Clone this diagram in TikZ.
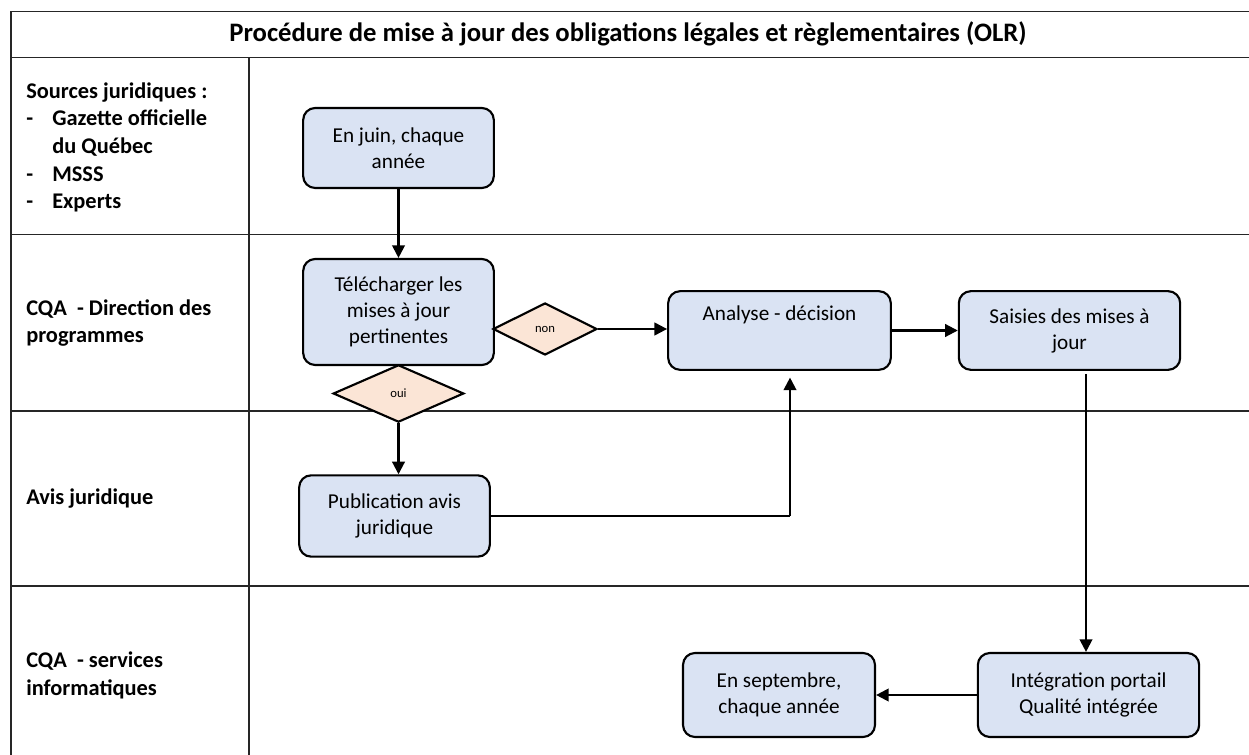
\documentclass[tikz,border=0pt]{standalone}
\usepackage{fontspec}
\setmainfont{Carlito}
\usetikzlibrary{shapes.geometric,arrows.meta}
\definecolor{boxblue}{HTML}{DAE3F3}
\definecolor{diafill}{HTML}{FBE5D6}
\definecolor{gridline}{HTML}{262626}
\begin{document}
\begin{tikzpicture}[x=0.75pt,y=-0.75pt,
  grid/.style={draw=gridline, line width=1.2pt},
  stepbox/.style={draw=black, line width=1.6pt, rounded corners=9pt, fill=boxblue,
    align=center, inner sep=2pt, font=\fontsize{15.9}{19.5}\selectfont},
  choice/.style={draw=black, line width=1.6pt, fill=diafill, diamond, inner sep=0pt,
    font=\fontsize{9.5}{11}\selectfont},
  lane/.style={align=left, anchor=base west, inner sep=0pt, font=\bfseries\fontsize{16.8}{20.8}\selectfont},
  flow/.style={draw=black, line width=1.6pt, -{Triangle[length=9.5pt,width=9.5pt]}},
]
\useasboundingbox (0,0) rectangle (1249,755);
% table grid
\draw[grid] (1249,11.5) -- (11,11.5) -- (11,755);
\draw[grid] (11,57.5) -- (1249,57.5);
\draw[grid] (11,234.5) -- (1249,234.5);
\draw[grid] (11,411) -- (1249,411);
\draw[grid] (11,586) -- (1249,586);
\draw[grid] (249,57.5) -- (249,755);
% title
\node[font=\bfseries\fontsize{20}{24}\selectfont] (title) at (628,34) {Procédure de mise à jour des obligations légales et règlementaires (OLR)};
% lane labels (anchored at the baseline of their last line)
\node[lane] (lsrc) at (26,209) {Sources juridiques :\\
\makebox[19.5pt][l]{-}Gazette officielle\\
\hspace*{19.5pt}du Québec\\
\makebox[19.5pt][l]{-}MSSS\\
\makebox[19.5pt][l]{-}Experts};
\node[lane] (ldir) at (26,343) {CQA\ \ - Direction des\\programmes};
\node[lane] (lavis) at (26,504) {Avis juridique};
\node[lane] (linfo) at (26,695) {CQA\ \ - services\\informatiques};
% steps
\node[stepbox, minimum width=143pt, minimum height=60pt] (juin) at (398.5,148) {En juin, chaque\\année};
\node[stepbox, minimum width=143pt, minimum height=79.5pt] (tele) at (398.5,312) {Télécharger les\\mises à jour\\pertinentes};
\node[choice, minimum width=78pt, minimum height=39pt] (non) at (545,329) {non};
\node[choice, minimum width=98pt, minimum height=43pt] (oui) at (398.5,393.5) {oui};
\node[stepbox, minimum width=167pt, minimum height=59pt] (ana) at (779.5,330.5) {Analyse - décision\\\strut};
\node[stepbox, minimum width=166pt, minimum height=59pt] (sais) at (1069.5,330.5) {Saisies des mises à\\jour};
\node[stepbox, minimum width=143pt, minimum height=61pt] (pub) at (394.5,516) {Publication avis\\juridique};
\node[stepbox, minimum width=166pt, minimum height=63pt] (integ) at (1088.5,695) {Intégration portail\\Qualité intégrée};
\node[stepbox, minimum width=144pt, minimum height=63pt] (sept) at (779,695) {En septembre,\\chaque année};
% connectors
\draw[flow] (juin.south) -- (tele.north);
\draw[flow] (non.east) -- (ana.west |- non.east);
\draw[flow] (oui.south) -- (oui.south |- pub.north);
\coordinate (bend) at (790,516);
\draw[draw=black, line width=0.8pt] (pub.east |- bend) -- (bend);
\draw[flow, shorten >=5pt] (bend) -- (bend |- ana.south);
\draw[flow] (ana.east |- sais.west) -- (sais.west);
\coordinate (sdrop) at (1086,374);
\draw[flow] (sdrop) -- (sdrop |- integ.north);
\draw[flow] (integ.west) -- (sept.east);
\end{tikzpicture}
\end{document}
